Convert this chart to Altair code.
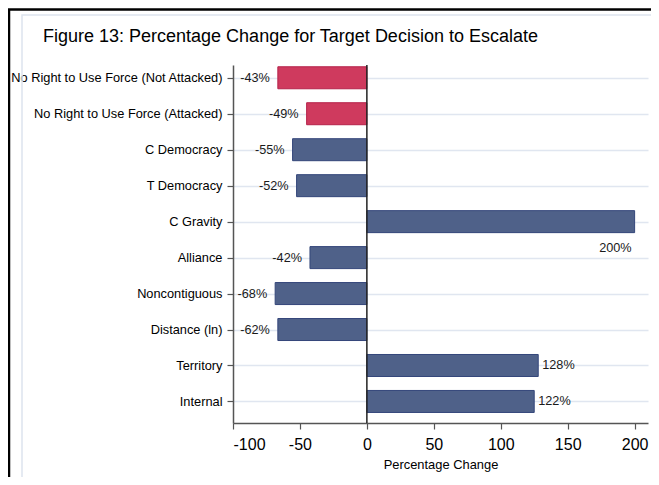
import altair as alt
import pandas as pd

categories = [
    "No Right to Use Force (Not Attacked)",
    "No Right to Use Force (Attacked)",
    "C Democracy",
    "T Democracy",
    "C Gravity",
    "Alliance",
    "Noncontiguous",
    "Distance (ln)",
    "Territory",
    "Internal",
]
values = [-66.5, -45, -55.5, -52.5, 200, -42.5, -68.5, -66.5, 128, 125]
labels = ["-43%", "-49%", "-55%", "-52%", "200%", "-42%", "-68%", "-62%", "128%", "122%"]
groups = ["force", "force", "other", "other", "other", "other", "other", "other", "other", "other"]
x_ticks = [-100, -50, 0, 50, 100, 150, 200]

df = pd.DataFrame({
    "category": categories,
    "value": values,
    "label": labels,
    "group": groups,
    "idx": list(range(1, len(categories) + 1)),
})
one = pd.DataFrame({"k": [0]})

FONT = "Liberation Sans"
label_expr = "[" + ",".join("'" + c + "'" for c in categories) + "][datum.value - 1]"

x_scale = alt.Scale(domain=[-100, 210], nice=False, zero=False)
y_scale = alt.Scale(domain=[0.784, 10.46], reverse=True, nice=False, zero=False)

x_axis = alt.Axis(
    values=x_ticks, tickCount=len(x_ticks), labelExpr="'' + datum.value", title="Percentage Change",
    grid=False, labelFontSize=16, labelFont=FONT, labelColor="#000000", labelPadding=7,
    tickSize=6, tickColor="#555555", domainColor="#555555", tickWidth=1.2, domainWidth=1.5,
    titleFontSize=12.9, titleFont=FONT, titleFontWeight="normal", titleColor="#000000",
    titlePadding=6,
)
y_axis = alt.Axis(
    values=list(range(1, len(categories) + 1)), tickCount=len(categories),
    labelExpr=label_expr, title=None, labelOverlap=False, labelLimit=400,
    grid=True, gridColor="#e0e6f0", gridWidth=1.5,
    labelFontSize=12.8, labelFont=FONT, labelColor="#000000", labelPadding=5,
    tickSize=6, tickColor="#555555", domainColor="#555555", tickWidth=1.2, domainWidth=1.5,
)

outer_frame = alt.Chart(one).mark_rect(fill="transparent", stroke="#000000", strokeWidth=2.5).encode(
    x=alt.value(-224), x2=alt.value(700), y=alt.value(-55.5), y2=alt.value(520)
)
inner_frame = alt.Chart(one).mark_rect(fill="transparent", stroke="#dde4ee", strokeWidth=1.5).encode(
    x=alt.value(-211), x2=alt.value(700), y=alt.value(-50), y2=alt.value(418)
)

bars = alt.Chart(df).mark_bar(orient="horizontal", size=22, strokeWidth=1).encode(
    x=alt.X("value:Q", scale=x_scale, axis=x_axis),
    x2=alt.X2(datum=0),
    y=alt.Y("idx:Q", scale=y_scale, axis=y_axis),
    fill=alt.Fill("group:N", scale=alt.Scale(domain=["force", "other"], range=["#cf3a5e", "#4f6189"]), legend=None),
    stroke=alt.Stroke("group:N", scale=alt.Scale(domain=["force", "other"], range=["#b5224a", "#34467a"]), legend=None),
)

zero_line = alt.Chart(one).mark_rule(color="#222222", strokeWidth=1.5).encode(
    x=alt.X(datum=0, scale=x_scale)
)

text_neg = alt.Chart(df).transform_filter("datum.value < 0").mark_text(
    align="right", baseline="middle", dx=-8, fontSize=12.7, font=FONT, color="#1a1a1a"
).encode(x="value:Q", y="idx:Q", text="label:N")

text_pos = alt.Chart(df).transform_filter("datum.value >= 0 && datum.value < 180").mark_text(
    align="left", baseline="middle", dx=4, fontSize=12.7, font=FONT, color="#1a1a1a"
).encode(x="value:Q", y="idx:Q", text="label:N")

text_below = alt.Chart(df).transform_filter("datum.value >= 180").mark_text(
    align="right", baseline="middle", dx=-3, dy=26, fontSize=12.7, font=FONT, color="#1a1a1a"
).encode(x="value:Q", y="idx:Q", text="label:N")

chart = alt.layer(
    outer_frame, inner_frame, bars, zero_line, text_neg, text_pos, text_below
).properties(
    width=415,
    height=358,
    autosize=alt.AutoSizeParams(type="none"),
    padding={"left": 225, "top": 57, "right": 3, "bottom": 54},
    background="#ffffff",
    title=alt.TitleParams(
        "Figure 13: Percentage Change for Target Decision to Escalate",
        anchor="start", frame="group", dx=-190, offset=-52, baseline="alphabetic",
        fontSize=18, font=FONT, fontWeight="normal", color="#000000",
    ),
).configure_view(stroke=None)

chart.save("out.html", embed_options={"renderer": "svg", "actions": False})
